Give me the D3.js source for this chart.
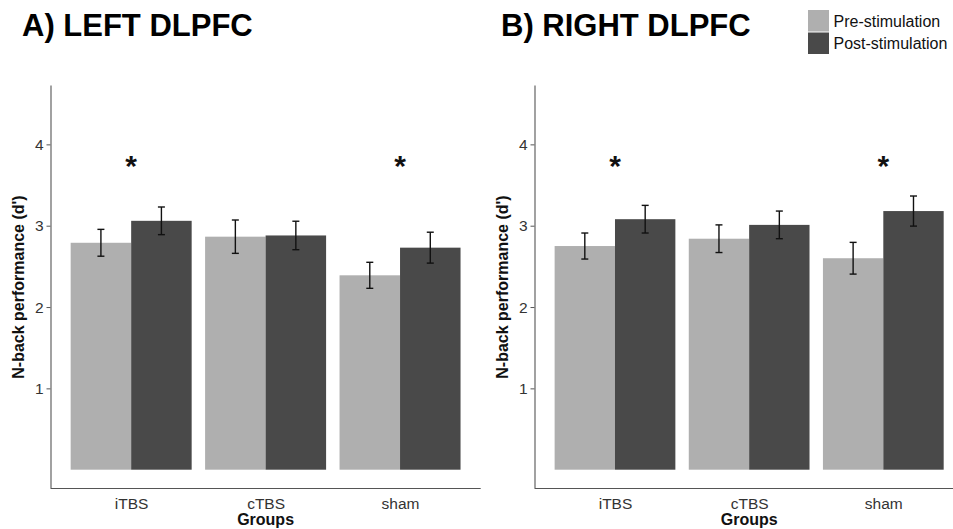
<!DOCTYPE html>
<html>
<head>
<meta charset="utf-8">
<script src="https://cdn.jsdelivr.net/npm/d3@7"></script>
<style>
  body { margin: 0; background: #fff; }
  svg { display: block; font-family: "Liberation Sans", Arial, sans-serif; }
</style>
</head>
<body>
<div id="chart"></div>
<script>
// categories / series
const groups = ["iTBS", "cTBS", "sham"];
const phases = ["Pre-stimulation", "Post-stimulation"];
const yTicks = [1, 2, 3, 4];

// left DLPFC: mean d' and standard error per group
const leftPre = [2.79, 2.865, 2.39];
const leftPreSE = [0.165, 0.205, 0.16];
const leftPost = [3.06, 2.88, 2.73];
const leftPostSE = [0.17, 0.175, 0.19];
const leftSig = ["iTBS", "sham"];

// right DLPFC
const rightPre = [2.75, 2.84, 2.60];
const rightPreSE = [0.16, 0.17, 0.195];
const rightPost = [3.08, 3.01, 3.18];
const rightPostSE = [0.17, 0.17, 0.185];
const rightSig = ["iTBS", "sham"];

const sigLevel = 3.82; // height of the asterisks

const width = 953;
const height = 529;

const svg = d3.create("svg")
  .attr("width", width)
  .attr("height", height)
  .attr("viewBox", [0, 0, width, height]);

svg.append("rect").attr("width", width).attr("height", height).attr("fill", "#fff");

const color = d3.scaleOrdinal(phases, ["#afafaf", "#494949"]);

// y scale shared by both panels (0..4.5 plus ggplot style 5% expansion)
const y = d3.scaleLinear()
  .domain([-0.225, 4.725])
  .range([488, 85.4]);

function toRows(pre, preSE, post, postSE) {
  const rows = [];
  groups.forEach((g, i) => {
    rows.push({ group: g, phase: phases[0], mean: pre[i], se: preSE[i] });
    rows.push({ group: g, phase: phases[1], mean: post[i], se: postSE[i] });
  });
  return rows;
}

function drawPanel(x0, x1, title, titleX, rows, sig) {
  const g = svg.append("g");

  const x = d3.scalePoint()
    .domain(groups)
    .range([x0, x1])
    .padding(0.6);
  const step = x.step();

  const xSub = d3.scaleBand()
    .domain(phases)
    .range([-0.45 * step, 0.45 * step]);

  // bars
  g.append("g")
    .selectAll("rect")
    .data(rows)
    .join("rect")
    .attr("x", (d) => x(d.group) + xSub(d.phase))
    .attr("y", (d) => y(d.mean))
    .attr("width", xSub.bandwidth())
    .attr("height", (d) => y(0) - y(d.mean))
    .attr("fill", (d) => color(d.phase));

  // error bars
  const eb = g.append("g")
    .attr("stroke", "#111")
    .attr("stroke-width", 1.4)
    .selectAll("g")
    .data(rows)
    .join("g")
    .attr("transform", (d) => `translate(${x(d.group) + xSub(d.phase) + xSub.bandwidth() / 2},0)`);
  eb.append("line")
    .attr("y1", (d) => y(d.mean - d.se))
    .attr("y2", (d) => y(d.mean + d.se));
  eb.append("line")
    .attr("x1", -3.5).attr("x2", 3.5)
    .attr("y1", (d) => y(d.mean + d.se))
    .attr("y2", (d) => y(d.mean + d.se));
  eb.append("line")
    .attr("x1", -3.5).attr("x2", 3.5)
    .attr("y1", (d) => y(d.mean - d.se))
    .attr("y2", (d) => y(d.mean - d.se));

  // significance asterisks
  g.append("g")
    .selectAll("text")
    .data(sig)
    .join("text")
    .attr("x", (d) => x(d))
    .attr("y", y(sigLevel))
    .attr("dy", "0.57em")
    .attr("text-anchor", "middle")
    .attr("font-size", 30)
    .attr("font-weight", "bold")
    .attr("fill", "#111")
    .text("*");

  // x axis
  const xAxis = g.append("g")
    .attr("transform", `translate(0,${y.range()[0]})`)
    .call(d3.axisBottom(x).tickSize(0).tickPadding(10))
    .attr("font-family", null)
    .attr("font-size", 15.5);
  xAxis.select(".domain").attr("stroke", "#555").attr("stroke-width", 1.1).attr("d", `M${x0},0.5H${x1}`);
  xAxis.selectAll("text").attr("fill", "#333");

  // y axis
  const yAxis = g.append("g")
    .attr("transform", `translate(${x0},0)`)
    .call(d3.axisLeft(y).tickValues(yTicks).tickFormat(d3.format("d")).tickSize(4).tickPadding(3))
    .attr("font-family", null)
    .attr("font-size", 15.5);
  yAxis.select(".domain").attr("stroke", "#555").attr("stroke-width", 1.1)
    .attr("d", `M0.5,${y.range()[1]}V${y.range()[0]}`);
  yAxis.selectAll(".tick line").attr("stroke", "#555");
  yAxis.selectAll("text").attr("fill", "#333");

  // axis titles
  g.append("text")
    .attr("x", x(groups[1]))
    .attr("y", 525)
    .attr("text-anchor", "middle")
    .attr("font-size", 16)
    .attr("font-weight", "bold")
    .attr("fill", "#111")
    .text("Groups");

  g.append("text")
    .attr("transform", `translate(${x0 - 26.5},${287}) rotate(-90)`)
    .attr("text-anchor", "middle")
    .attr("font-size", 16)
    .attr("font-weight", "bold")
    .attr("fill", "#111")
    .text("N-back performance (d')");

  // panel title
  svg.append("text")
    .attr("x", titleX)
    .attr("y", 35.5)
    .attr("font-size", 31)
    .attr("font-weight", "bold")
    .attr("fill", "#000")
    .text(title);
}

drawPanel(50.5, 480.7, "A) LEFT DLPFC", 22,
  toRows(leftPre, leftPreSE, leftPost, leftPostSE), leftSig);
drawPanel(534.5, 963.8, "B) RIGHT DLPFC", 501,
  toRows(rightPre, rightPreSE, rightPost, rightPostSE), rightSig);

// legend
const legend = svg.append("g")
  .selectAll("g")
  .data(phases)
  .join("g")
  .attr("transform", (d, i) => `translate(808,${10 + i * 22.5})`);
legend.append("rect")
  .attr("width", 21)
  .attr("height", 21.5)
  .attr("fill", (d) => color(d));
legend.append("text")
  .attr("x", 25.5)
  .attr("y", 11)
  .attr("dy", "0.35em")
  .attr("font-size", 16)
  .attr("fill", "#111")
  .text((d) => d);

document.getElementById("chart").appendChild(svg.node());
</script>
</body>
</html>
